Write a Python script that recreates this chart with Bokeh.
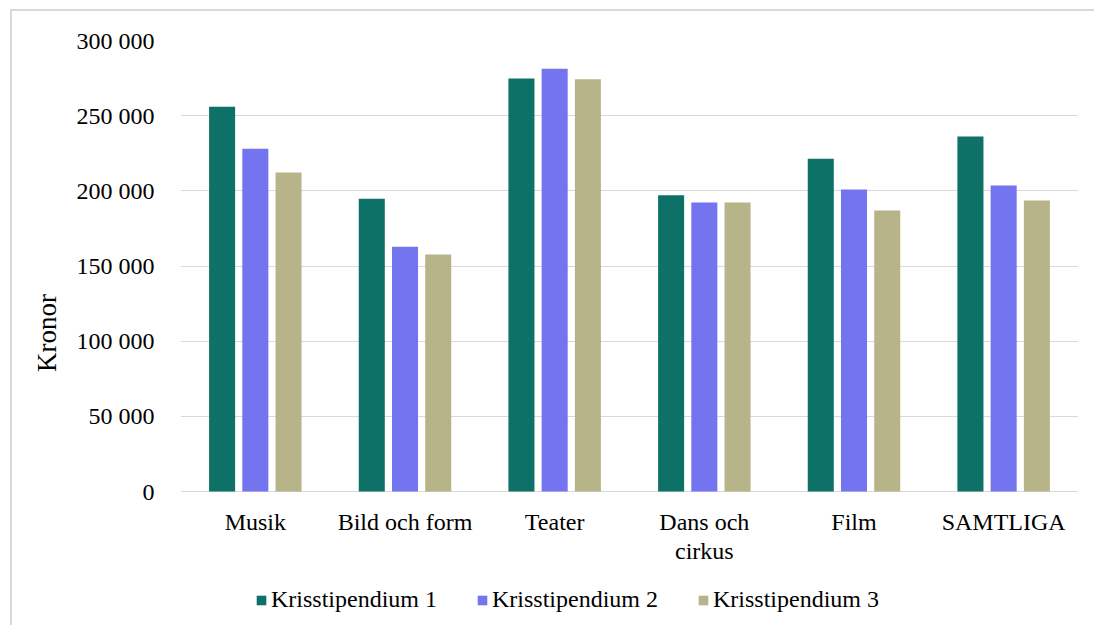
from bokeh.plotting import figure
from bokeh.models import ColumnDataSource, FactorRange, Range1d, Legend, LegendItem, FixedTicker
from bokeh.transform import dodge
from bokeh.core.properties import value
from bokeh.embed import file_html
from bokeh.resources import INLINE

categories = ["Musik", "Bild och form", "Teater", "Dans och\ncirkus", "Film", "SAMTLIGA"]
series_names = ["Krisstipendium 1", "Krisstipendium 2", "Krisstipendium 3"]
k1 = [256000, 194700, 274700, 197100, 221300, 236100]
k2 = [228000, 162800, 281200, 192200, 200900, 203500]
k3 = [212200, 157700, 274300, 192200, 186900, 193600]
colors = ["#0E7168", "#7474F0", "#B8B48A"]
y_ticks = [0, 50000, 100000, 150000, 200000, 250000, 300000]
y_tick_labels = ["0", "50 000", "100 000", "150 000", "200 000", "250 000", "300 000"]

FONT = "Liberation Serif"

src = ColumnDataSource(dict(cat=categories, k1=k1, k2=k2, k3=k3))

# frame extends below zero so that category labels and legend sit inside it
p = figure(x_range=FactorRange(factors=categories), y_range=Range1d(-89135, 300000),
           width=1084, height=616, output_backend="svg", toolbar_location=None,
           x_axis_location=None,
           min_border_left=168, min_border_right=18, min_border_top=29, min_border_bottom=2)
p.margin = (9, 0, 0, 10)
p.styles = {"border-left": "2px solid #d9d9d9", "border-top": "2px solid #d9d9d9"}

renderers = []
for key, off, col in zip(["k1", "k2", "k3"], [-0.222, 0.0, 0.222], colors):
    r = p.vbar(x=dodge("cat", off, range=p.x_range), top=key, width=0.174, source=src,
               fill_color=col, line_color=None)
    renderers.append(r)

# category labels under the zero line
p.text(x="cat", y=0, text="cat", source=src, y_offset=17,
       text_align="center", text_baseline="top", text_font=value(FONT),
       text_font_size="24px", text_color="#000000", text_line_height=1.15)

legend = Legend(items=[LegendItem(label=n, renderers=[r]) for n, r in zip(series_names, renderers)],
                orientation="horizontal", location=(75, 12),
                label_text_font=FONT, label_text_font_size="24px", label_text_color="#000000",
                glyph_width=12, glyph_height=12, label_standoff=4, spacing=39,
                padding=0, margin=0, border_line_color=None, background_fill_alpha=0)
p.add_layout(legend, "center")

p.outline_line_color = None
p.xgrid.grid_line_color = None
p.ygrid.grid_line_color = "#d9d9d9"
p.ygrid.grid_line_width = 1

p.yaxis.ticker = FixedTicker(ticks=y_ticks)
p.yaxis.major_label_overrides = {t: l for t, l in zip(y_ticks, y_tick_labels)}
p.yaxis.axis_line_color = None
p.yaxis.major_tick_line_color = None
p.yaxis.minor_tick_line_color = None
p.yaxis.major_label_standoff = 20
p.yaxis.major_label_text_font = FONT
p.yaxis.major_label_text_font_size = "24px"
p.yaxis.major_label_text_color = "#000000"
p.yaxis.axis_label = "Kronor"
p.yaxis.axis_label_text_font = FONT
p.yaxis.axis_label_text_font_size = "27px"
p.yaxis.axis_label_text_font_style = "normal"
p.yaxis.axis_label_text_color = "#000000"
p.yaxis.axis_label_standoff = 12

open("out.html", "w").write(file_html(p, INLINE))
